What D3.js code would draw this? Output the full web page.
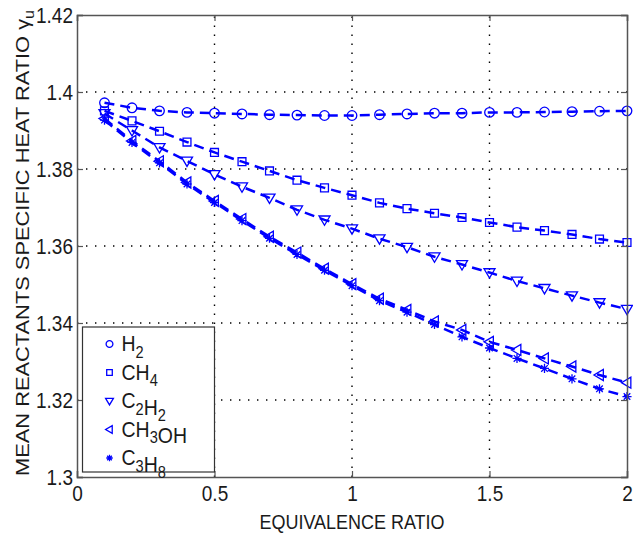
<!DOCTYPE html>
<head>
    <meta charset="utf-8">
    <script src="https://d3js.org/d3.v7.min.js"></script>
    <style>
        body { margin: 0; background: #fff; }
        svg text { font-family: "Liberation Sans", Arial, Helvetica, sans-serif; fill: #1a1a1a; }
        .grid line { stroke: #000; stroke-width: 1.4; stroke-dasharray: 1.4,7.6; }
        .serie path.linha { fill: none; stroke: #0000ff; stroke-width: 2.5; stroke-dasharray: 10,6; }
        .marker { fill: none; stroke: #0000ff; stroke-width: 1.3; }
    </style>
</head>
<body>
<div id="chart"></div>
<script>
    // dados --------------------------------------------------------------
    var phi   = [0.1, 0.2, 0.3, 0.4, 0.5, 0.6, 0.7, 0.8, 0.9, 1.0,
                 1.1, 1.2, 1.3, 1.4, 1.5, 1.6, 1.7, 1.8, 1.9, 2.0];
    var h2    = [1.3972, 1.3959, 1.3951, 1.3947, 1.3945, 1.3943, 1.3941, 1.3940, 1.3939, 1.3939,
                 1.3941, 1.3943, 1.3945, 1.3945, 1.3947, 1.3947, 1.3948, 1.3949, 1.3950, 1.3951];
    var ch4   = [1.3951, 1.3925, 1.3898, 1.3870, 1.3843, 1.3819, 1.3795, 1.3771, 1.3751, 1.3732,
                 1.3712, 1.3697, 1.3685, 1.3674, 1.3661, 1.3649, 1.3640, 1.3630, 1.3618, 1.3609];
    var c2h2  = [1.3944, 1.3900, 1.3856, 1.3821, 1.3786, 1.3754, 1.3725, 1.3694, 1.3668, 1.3645,
                 1.3619, 1.3597, 1.3572, 1.3552, 1.3531, 1.3509, 1.3490, 1.3471, 1.3453, 1.3436];
    var ch3oh = [1.3931, 1.3873, 1.3820, 1.3765, 1.3717, 1.3670, 1.3624, 1.3583, 1.3541, 1.3501,
                 1.3463, 1.3434, 1.3404, 1.3382, 1.3351, 1.3330, 1.3308, 1.3287, 1.3265, 1.3245];
    var c3h8  = [1.3927, 1.3869, 1.3816, 1.3761, 1.3713, 1.3666, 1.3620, 1.3578, 1.3537, 1.3497,
                 1.3458, 1.3428, 1.3396, 1.3364, 1.3335, 1.3308, 1.3282, 1.3255, 1.3229, 1.3209];

    var nomes    = ["H_2", "CH_4", "C_2H_2", "CH_3OH", "C_3H_8"];
    var simbolos = ["circle", "square", "tridown", "trileft", "star"];
    var xTicks   = [0, 0.5, 1, 1.5, 2];
    var yTicks   = [1.3, 1.32, 1.34, 1.36, 1.38, 1.4, 1.42];

    var series = [h2, ch4, c2h2, ch3oh, c3h8];

    // dimensoes ----------------------------------------------------------
    var width = 633, height = 535;
    var margin = {top: 15, right: 6, bottom: 58, left: 77};
    var w = width - margin.left - margin.right;
    var h = height - margin.top - margin.bottom;
    var fonte = 19, estica = 1.15; // texto um pouco esticado na vertical

    var svg = d3.select("#chart").append("svg")
        .attr("width", width)
        .attr("height", height);

    var g = svg.append("g")
        .attr("transform", "translate(" + margin.left + "," + margin.top + ")");

    var x = d3.scaleLinear().domain([0, 2]).range([0, w]);
    var y = d3.scaleLinear().domain([1.3, 1.42]).range([h, 0]);

    // grade pontilhada ----------------------------------------------------
    var grid = g.append("g").attr("class", "grid");
    grid.selectAll("line.v")
        .data(xTicks.slice(1, -1))
        .enter().append("line")
        .attr("x1", function(d) { return x(d); })
        .attr("x2", function(d) { return x(d); })
        .attr("y1", h).attr("y2", 0);
    grid.selectAll("line.h")
        .data(yTicks.slice(1, -1))
        .enter().append("line")
        .attr("x1", 0).attr("x2", w)
        .attr("y1", function(d) { return y(d); })
        .attr("y2", function(d) { return y(d); });

    // simbolos (marcadores estilo matlab) ---------------------------------
    function simbolo(tipo, s) {
        var p = d3.path();
        if (tipo == "circle") {
            p.moveTo(s, 0); p.arc(0, 0, s, 0, 2 * Math.PI);
        } else if (tipo == "square") {
            var a = s * 0.82;
            p.rect(-a, -a, 2 * a, 2 * a);
        } else if (tipo == "tridown") {
            p.moveTo(-s * 1.15, -s * 0.8); p.lineTo(s * 1.15, -s * 0.8);
            p.lineTo(0, s * 1.15); p.closePath();
        } else if (tipo == "trileft") {
            p.moveTo(s * 0.8, -s * 1.15); p.lineTo(s * 0.8, s * 1.15);
            p.lineTo(-s * 1.15, 0); p.closePath();
        } else {
            var r = s * 0.95, k = r * 0.72;
            p.moveTo(-r, 0); p.lineTo(r, 0);
            p.moveTo(0, -r); p.lineTo(0, r);
            p.moveTo(-k, -k); p.lineTo(k, k);
            p.moveTo(-k, k); p.lineTo(k, -k);
        }
        return p.toString();
    }

    // series ---------------------------------------------------------------
    var linha = d3.line()
        .x(function(d, i) { return x(phi[i]); })
        .y(function(d) { return y(d); });

    var sg = g.selectAll("g.serie")
        .data(series)
        .enter().append("g")
        .attr("class", "serie");

    sg.append("path")
        .attr("class", "linha")
        .attr("d", linha);

    sg.each(function(serie, j) {
        d3.select(this).selectAll("path.marker")
            .data(serie)
            .enter().append("path")
            .attr("class", "marker")
            .attr("transform", function(d, i) {
                return "translate(" + x(phi[i]) + "," + y(d) + ")";
            })
            .attr("d", simbolo(simbolos[j], 4.8));
    });

    // eixos (caixa com ticks para dentro) ---------------------------------
    var axisColor = "#555";

    var ax = g.append("g")
        .attr("transform", "translate(0," + h + ")")
        .call(d3.axisBottom(x).tickValues(xTicks).tickSize(-6).tickFormat(d3.format("")));
    var ay = g.append("g")
        .call(d3.axisLeft(y).tickValues(yTicks).tickSize(-6).tickFormat(d3.format("")));
    var ax2 = g.append("g")
        .call(d3.axisTop(x).tickValues(xTicks).tickSize(-6).tickFormat(""));
    var ay2 = g.append("g")
        .attr("transform", "translate(" + w + ",0)")
        .call(d3.axisRight(y).tickValues(yTicks).tickSize(-6).tickFormat(""));

    [ax, ay, ax2, ay2].forEach(function(a) {
        a.select(".domain").attr("stroke", axisColor).attr("stroke-width", 1.5);
        a.selectAll(".tick line").attr("stroke", axisColor).attr("stroke-width", 1.2);
        a.selectAll(".tick text")
            .attr("fill", "#1a1a1a")
            .style("font-size", fonte + "px")
            .style("font-family", "'Liberation Sans', Arial, sans-serif");
    });
    ax.selectAll(".tick text")
        .attr("y", 0).attr("dy", "0.71em")
        .attr("transform", "translate(0,8) scale(1," + estica + ")");
    ay.selectAll(".tick text")
        .attr("x", 0).attr("dy", "0.34em")
        .attr("transform", "translate(-4,0) scale(1," + estica + ")");

    // legenda ----------------------------------------------------------------
    var leg = g.append("g")
        .attr("transform", "translate(" + (x(0.5) - 132) + "," + (y(1.34) + 4) + ")");
    leg.append("rect")
        .attr("width", 132).attr("height", 145)
        .attr("fill", "#fff")
        .attr("stroke", "#333").attr("stroke-width", 1.2);

    function escreve(sel, nome, size) {
        nome.split(/(_\d)/).forEach(function(parte) {
            if (!parte) return;
            if (parte[0] == "_") {
                sel.append("tspan").attr("dy", 6).style("font-size", (size * 0.75) + "px").text(parte.slice(1));
                sel.append("tspan").attr("dy", -6).text("");
            } else {
                sel.append("tspan").text(parte);
            }
        });
    }

    nomes.forEach(function(nome, j) {
        var yy = 17 + j * 28.5;
        leg.append("path")
            .attr("class", "marker")
            .attr("transform", "translate(27," + yy + ")")
            .attr("d", simbolo(simbolos[j], 3.4));
        var t = leg.append("text")
            .attr("transform", "translate(39," + (yy + 7) + ") scale(1,1.1)")
            .style("font-size", "19.5px");
        escreve(t, nome, 19.5);
    });

    // titulos dos eixos ------------------------------------------------------
    svg.append("text")
        .attr("transform", "translate(" + (margin.left + w / 2) + ",529) scale(1," + estica + ")")
        .attr("text-anchor", "middle")
        .style("font-size", "18px")
        .text("EQUIVALENCE RATIO");

    var yl = svg.append("text")
        .attr("transform", "translate(29,243) rotate(-90) scale(" + estica + ",1)")
        .attr("text-anchor", "middle")
        .style("font-size", fonte + "px");
    yl.append("tspan").text("MEAN REACTANTS SPECIFIC HEAT RATIO \u03b3");
    yl.append("tspan").attr("dy", 5).style("font-size", "14px").text("u");
</script>
</body>
